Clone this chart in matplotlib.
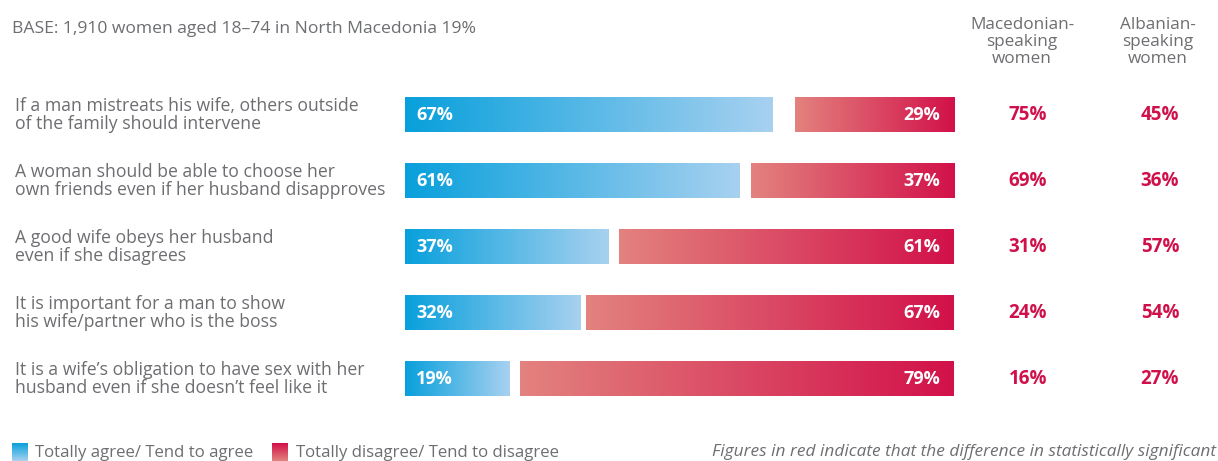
import numpy as np
import matplotlib.pyplot as plt
import matplotlib.transforms as mtransforms
from matplotlib.colors import LinearSegmentedColormap

plt.rcParams['font.family'] = ['Open Sans', 'DejaVu Sans']

questions = [
    "If a man mistreats his wife, others outside\nof the family should intervene",
    "A woman should be able to choose her\nown friends even if her husband disapproves",
    "A good wife obeys her husband\neven if she disagrees",
    "It is important for a man to show\nhis wife/partner who is the boss",
    "It is a wife\u2019s obligation to have sex with her\nhusband even if she doesn\u2019t feel like it",
]
agree = [67, 61, 37, 32, 19]
disagree = [29, 37, 61, 67, 79]
macedonian = [75, 69, 31, 24, 16]
albanian = [45, 36, 57, 54, 27]

grey = '#6d6e71'
red_txt = '#d0104a'
blue_cmap = LinearSegmentedColormap.from_list('b', ['#08a0dc', '#a8d1f0'])
red_cmap = LinearSegmentedColormap.from_list('r', ['#e3827e', '#d2114a'])

W, H = 1218, 461
fig = plt.figure(figsize=(W / 100, H / 100), dpi=100)

# bar area: 0-100% spans x 405..954 px, rows from y 81..411 px
ax = fig.add_axes([405 / W, (H - 412) / H, 549 / W, 330 / H])
ov = fig.add_axes([0, 0, 1, 1], zorder=-1)
ov.set_xlim(0, W)
ov.set_ylim(H, 0)
ov.axis('off')

grad = np.linspace(0, 1, 256).reshape(1, -1)
bh = 0.53
for i in range(len(questions)):
    a, d = agree[i], disagree[i]
    ax.imshow(grad, cmap=blue_cmap, extent=(0, a, i + bh / 2, i - bh / 2),
              aspect='auto', interpolation='bilinear')
    ax.imshow(grad, cmap=red_cmap, extent=(100 - d, 100, i + bh / 2, i - bh / 2),
              aspect='auto', interpolation='bilinear')
    ax.text(2, i, f"{a}%", color='white', fontsize=13, fontweight='bold',
            ha='left', va='center')
    ax.text(97.5, i, f"{d}%", color='white', fontsize=13, fontweight='bold',
            ha='right', va='center')

ax.set_xlim(0, 100)
ax.set_ylim(len(questions) - 0.5, -0.5)
ax.axis('off')

# row texts in figure pixels (x) and bar rows (y)
tr = mtransforms.blended_transform_factory(ov.transData, ax.transData)
for i, q in enumerate(questions):
    fig.text(15, i, q, transform=tr, color=grey, fontsize=12.7, ha='left',
             va='center', linespacing=1.0)
    fig.text(1028, i, f"{macedonian[i]}%", transform=tr, color=red_txt,
             fontsize=13.5, fontweight='bold', ha='center', va='center')
    fig.text(1160, i, f"{albanian[i]}%", transform=tr, color=red_txt,
             fontsize=13.5, fontweight='bold', ha='center', va='center')

ov.text(12, 29, "BASE: 1,910 women aged 18\u201374 in North Macedonia 19%",
        color=grey, fontsize=12.6, ha='left', va='center')
ov.text(1022, 42, "Macedonian-\nspeaking\nwomen", color=grey, fontsize=12.3,
        ha='center', va='center', linespacing=1.08)
ov.text(1158, 42, "Albanian-\nspeaking\nwomen", color=grey, fontsize=12.3,
        ha='center', va='center', linespacing=1.08)

# legend
vgrad = np.linspace(0, 1, 64).reshape(-1, 1)
ov.imshow(vgrad, cmap=LinearSegmentedColormap.from_list('lb', ['#08a0dc', '#a8d1f0']),
          extent=(12, 28, 461, 443), aspect='auto')
ov.imshow(vgrad, cmap=LinearSegmentedColormap.from_list('lr', ['#d2114a', '#e3827e']),
          extent=(272, 288, 461, 443), aspect='auto')
ov.set_xlim(0, W)
ov.set_ylim(H, 0)
ov.text(35, 453, "Totally agree/ Tend to agree", color=grey, fontsize=12.1,
        ha='left', va='center')
ov.text(296, 453, "Totally disagree/ Tend to disagree", color=grey, fontsize=12.1,
        ha='left', va='center')
ov.text(1216, 452, "Figures in red indicate that the difference in statistically significant",
        color=grey, fontsize=12.4, style='italic', ha='right', va='center')

fig.savefig('out.png', dpi=100)
